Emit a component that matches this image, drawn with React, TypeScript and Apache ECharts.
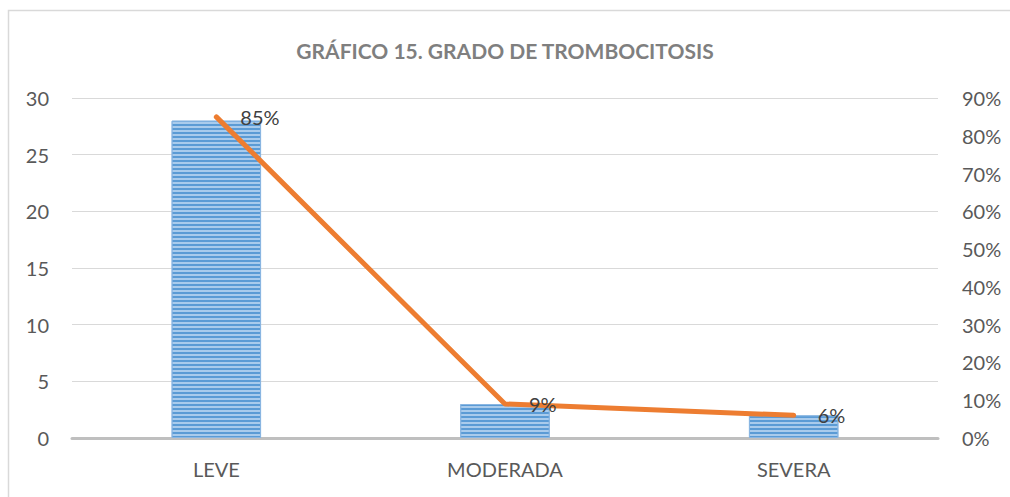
import React, { useEffect, useRef } from "react";
import * as echarts from "echarts";

const categories = ["LEVE", "MODERADA", "SEVERA"];
const counts = [28, 3, 2];
const percents = [85, 9, 6];
const leftTicks = { min: 0, max: 30, interval: 5 };
const rightTicks = { min: 0, max: 90, interval: 10 };
const titleText = "GRÁFICO 15. GRADO DE TROMBOCITOSIS";

export default function App() {
  const ref = useRef<HTMLDivElement>(null);
  useEffect(() => {
    if (!ref.current) return;
    const chart = echarts.init(ref.current, undefined, { renderer: "svg" });
    const font = "Lato, 'Noto Sans', sans-serif";
    chart.setOption({
      animation: false,
      backgroundColor: "#ffffff",
      textStyle: { fontFamily: font },
      title: {
        text: titleText,
        left: "center",
        top: 35,
        textStyle: { fontFamily: font, fontSize: 21, fontWeight: "bold", color: "#7f7f7f" },
      },
      graphic: [
        {
          type: "polyline",
          shape: { points: [[8.5, 497], [8.5, 10.5], [1010, 10.5]] },
          style: { fill: "none", stroke: "#d9d9d9", lineWidth: 1.5 },
          silent: true,
          z: -1,
        },
      ],
      grid: { left: 72, right: 72, top: 98, bottom: 59, containLabel: false },
      xAxis: {
        type: "category",
        data: categories,
        axisLine: { show: true, lineStyle: { color: "#bfbfbf", width: 3 } },
        axisTick: { show: false },
        axisLabel: { color: "#595959", fontSize: 20, margin: 21, fontFamily: font },
      },
      yAxis: [
        {
          type: "value",
          ...leftTicks,
          axisLine: { show: false },
          axisTick: { show: false },
          splitLine: { lineStyle: { color: "#d9d9d9", width: 1 } },
          axisLabel: { color: "#595959", fontSize: 20, margin: 23, fontFamily: font },
        },
        {
          type: "value",
          ...rightTicks,
          position: "right",
          axisLine: { show: false },
          axisTick: { show: false },
          splitLine: { show: false },
          axisLabel: { color: "#595959", fontSize: 20, margin: 24, formatter: "{value}%", fontFamily: font },
        },
      ],
      series: [
        {
          type: "bar",
          data: counts,
          barWidth: "31%",
          yAxisIndex: 0,
          itemStyle: {
            color: "#a9cbec",
            borderColor: "#8ab6e2",
            borderWidth: 1,
            decal: {
              symbol: "rect",
              symbolSize: 1,
              color: "#5b9bd5",
              dashArrayX: [1, 0],
              dashArrayY: [2, 2],
              rotation: 0,
            },
          },
          z: 2,
        },
        {
          type: "line",
          data: percents,
          yAxisIndex: 1,
          symbol: "circle",
          symbolSize: 4,
          showSymbol: true,
          itemStyle: { color: "#ed7d31" },
          lineStyle: { color: "#ed7d31", width: 5, cap: "round" },
          label: {
            show: true,
            position: "right",
            distance: 22,
            formatter: "{c}%",
            color: "#404040",
            fontSize: 20,
            fontFamily: font,
          },
          z: 3,
        },
      ],
    });
    return () => chart.dispose();
  }, []);
  return (
    <div
      ref={ref}
      style={{ position: "absolute", left: 0, top: 0, width: 1010, height: 497 }}
    />
  );
}
